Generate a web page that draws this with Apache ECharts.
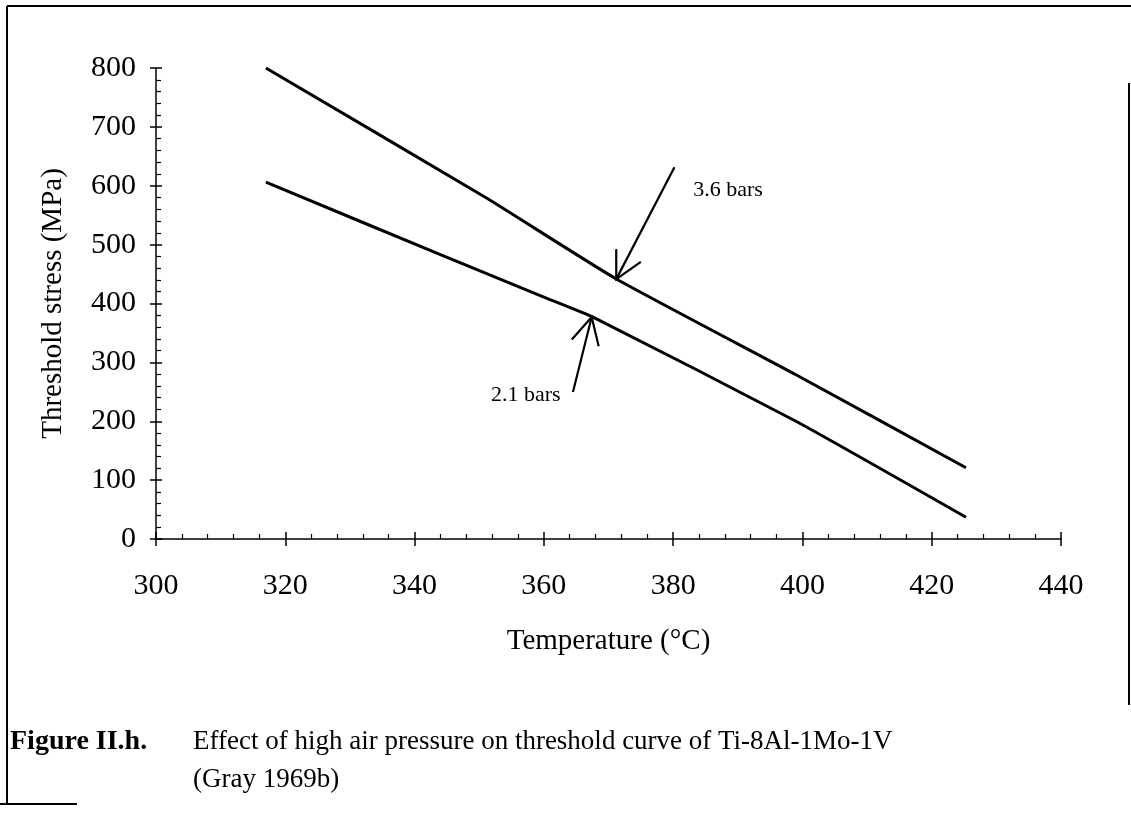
<!DOCTYPE html>
<html><head><meta charset="utf-8">
<script src="https://cdn.jsdelivr.net/npm/echarts@6/dist/echarts.min.js"></script>
<style>html,body{margin:0;padding:0;background:#fff}#c{width:1131px;height:813px}</style>
</head><body><div id="c"></div>
<script>
// ---- data ----
const upperTemp   = [317, 351, 371, 399, 425.3];
const upperStress = [800, 580, 443, 279, 121];
const lowerTemp   = [317, 344, 360, 367.6, 399, 425.3];
const lowerStress = [606, 483, 411, 377, 200, 37];
const annotText   = ['3.6 bars', '2.1 bars'];
const arrowTail   = [[380.2, 631.6], [364.5, 249.6]];
const arrowTip    = [[371.2, 441.4], [367.4, 376.9]];
const labelPos    = [[383.1, 592], [362.6, 244.5]];
const labelAlign  = ['left', 'right'];
const xTitle = 'Temperature (°C)';
const yTitle = 'Threshold stress (MPa)';
const captionHead = 'Figure II.h.';
const captionLines = ['Effect of high air pressure on threshold curve of Ti-8Al-1Mo-1V', '(Gray 1969b)'];

const FONT = '"Liberation Serif", "Times New Roman", serif';
const pair = (xs, ys) => xs.map((x, i) => [x, ys[i]]);
const annotData = annotText.map((t, i) => [arrowTail[i][0], arrowTail[i][1], arrowTip[i][0], arrowTip[i][1], labelPos[i][0], labelPos[i][1]]);

const chart = echarts.init(document.getElementById('c'), null, {renderer: 'canvas'});
const axisCommon = {
  type: 'value', splitLine: {show: false},
  axisLine: {show: true, onZero: false, lineStyle: {color: '#000', width: 1.5}},
};
chart.setOption({
  backgroundColor: '#fff',
  animation: false,
  grid: {left: 156, right: 70, top: 68, bottom: 274, containLabel: false},
  xAxis: [
    Object.assign({}, axisCommon, {
      min: 300, max: 440, interval: 20, position: 'bottom',
      axisTick: {show: true, inside: true, length: 7, lineStyle: {color: '#000', width: 1.5}},
      minorTick: {show: true, splitNumber: 5, length: 5, lineStyle: {color: '#000', width: 1.2}},
      axisLabel: {color: '#000', fontFamily: FONT, fontSize: 30, margin: 32},
      name: xTitle, nameLocation: 'middle', nameGap: 88,
      nameTextStyle: {color: '#000', fontFamily: FONT, fontSize: 29}
    }),
    Object.assign({}, axisCommon, {
      min: 300, max: 440, interval: 20, position: 'bottom',
      axisLine: {show: false},
      axisTick: {show: true, inside: false, length: 7, lineStyle: {color: '#000', width: 1.5}},
      axisLabel: {show: false}
    })
  ],
  yAxis: [
    Object.assign({}, axisCommon, {
      min: 0, max: 800, interval: 100, position: 'left',
      axisTick: {show: true, inside: true, length: 6, lineStyle: {color: '#000', width: 1.5}},
      minorTick: {show: true, splitNumber: 5, length: 5, lineStyle: {color: '#000', width: 1.2}},
      axisLabel: {color: '#000', fontFamily: FONT, fontSize: 30, margin: 20},
      name: yTitle, nameLocation: 'middle', nameGap: 88,
      nameTextStyle: {color: '#000', fontFamily: FONT, fontSize: 29}
    }),
    Object.assign({}, axisCommon, {
      min: 0, max: 800, interval: 100, position: 'left',
      axisLine: {show: false},
      axisTick: {show: true, inside: false, length: 6, lineStyle: {color: '#000', width: 1.5}},
      axisLabel: {show: false}
    })
  ],
  series: [
    {type: 'line', name: '3.6 bars', data: pair(upperTemp, upperStress), showSymbol: false, symbol: 'none',
     smooth: 0.15, lineStyle: {color: '#000', width: 3}, z: 3},
    {type: 'line', name: '2.1 bars', data: pair(lowerTemp, lowerStress), showSymbol: false, symbol: 'none',
     smooth: 0.15, lineStyle: {color: '#000', width: 3}, z: 3},
    {type: 'custom', clip: false, z: 4,
     data: annotData,
     encode: {x: [0, 2, 4], y: [1, 3, 5]},
     renderItem: function (params, api) {
       const i = params.dataIndex;
       const a = api.coord([api.value(0), api.value(1)]);
       const b = api.coord([api.value(2), api.value(3)]);
       const t = api.coord([api.value(4), api.value(5)]);
       const ang = Math.atan2(a[1] - b[1], a[0] - b[0]);
       const L = 30, sp = 0.48;
       const h1 = [b[0] + L * Math.cos(ang + sp), b[1] + L * Math.sin(ang + sp)];
       const h2 = [b[0] + L * Math.cos(ang - sp), b[1] + L * Math.sin(ang - sp)];
       const ls = {stroke: '#000', lineWidth: 2.2, fill: null};
       return {type: 'group', children: [
         {type: 'line', shape: {x1: a[0], y1: a[1], x2: b[0], y2: b[1]}, style: ls},
         {type: 'polyline', shape: {points: [h1, b, h2]}, style: ls},
         {type: 'text', style: {text: annotText[i], x: t[0], y: t[1], fill: '#000',
           font: '22px ' + FONT, align: labelAlign[i], verticalAlign: 'middle'}}
       ]};
     }}
  ],
  graphic: [
    {type: 'line', shape: {x1: 7, y1: 6, x2: 7, y2: 804}, style: {stroke: '#000', lineWidth: 2}},
    {type: 'line', shape: {x1: 7, y1: 6, x2: 1131, y2: 6}, style: {stroke: '#000', lineWidth: 2}},
    {type: 'line', shape: {x1: 1129, y1: 83, x2: 1129, y2: 705}, style: {stroke: '#000', lineWidth: 2}},
    {type: 'line', shape: {x1: 0, y1: 804, x2: 77, y2: 804}, style: {stroke: '#000', lineWidth: 2}},
    {type: 'text', left: 10, top: 728, style: {text: captionHead, font: 'bold 28px ' + FONT, fill: '#000'}},
    {type: 'text', left: 193, top: 728, style: {text: captionLines[0], font: '27px ' + FONT, fill: '#000'}},
    {type: 'text', left: 193, top: 766, style: {text: captionLines[1], font: '27px ' + FONT, fill: '#000'}}
  ]
});
</script>
</body></html>
